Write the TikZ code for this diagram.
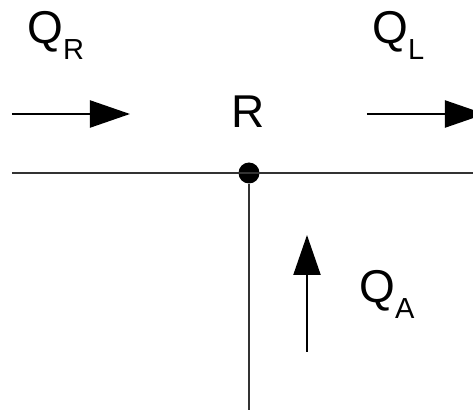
\documentclass[tikz,border=0pt]{standalone}
\usepackage{fontspec}
\setmainfont{Liberation Sans}
\usetikzlibrary{arrows.meta}

\newcommand{\flowname}[2]{#1{\fontsize{14.5}{16}\selectfont\raisebox{-8pt}{#2}}}

\begin{document}
\begin{tikzpicture}[x=0.5pt, y=-0.5pt,
      pipe/.style={line width=1.4pt, black!80},
      flow/.style={-{Triangle[length=20pt, width=13.5pt]}, line width=1.1pt, black},
      junction/.style={circle, fill=black, inner sep=0pt, minimum size=10.5pt},
      lbl/.style={anchor=base west, inner sep=0pt, font=\fontsize{23}{25}\selectfont},
    ]
    \useasboundingbox (0,0) rectangle (473,412);
    \clip (0,0) rectangle (473,412);

    % Pipes and junction
    \node[junction] (R) at (249,173) {};
    \coordinate (west) at (12,173);
    \coordinate (east) at (473,173);
    \coordinate (south) at (249,410);
    \draw[pipe] (west) -- (east);
    \draw[pipe] (R) -- (south);

    % Flow arrows
    \coordinate (qr0) at (12,114);
    \coordinate (qr1) at (130,114);
    \coordinate (ql0) at (367,114);
    \coordinate (ql1) at (485,114);
    \coordinate (qa0) at (307,352);
    \coordinate (qa1) at (307,235);
    \draw[flow] (qr0) -- (qr1);
    \draw[flow] (ql0) -- (ql1);
    \draw[flow] (qa0) -- (qa1);

    % Labels
    \node[lbl] (qrlabel) at (27,44) {\flowname{Q}{R}};
    \node[lbl] (qllabel) at (372,44) {\flowname{Q}{L}};
    \node[lbl, anchor=base] (rlabel) at (248,127) {R};
    \node[lbl] (qalabel) at (359,303) {\flowname{Q}{A}};

  \end{tikzpicture}
\end{document}
